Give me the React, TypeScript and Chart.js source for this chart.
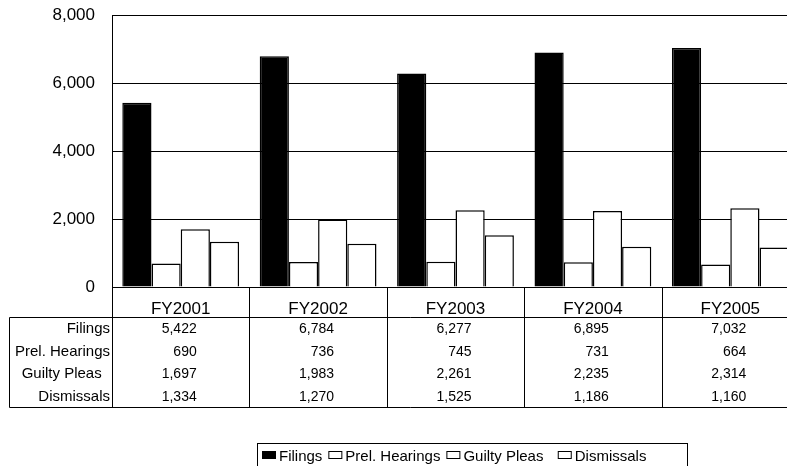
import React, { useEffect, useRef } from "react";
import { Chart, registerables } from "chart.js";

Chart.register(...registerables);

const categories = ["FY2001", "FY2002", "FY2003", "FY2004", "FY2005"];
const filings = [5422, 6784, 6277, 6895, 7032];
const prelHearings = [690, 736, 745, 731, 664];
const guiltyPleas = [1697, 1983, 2261, 2235, 2314];
const dismissals = [1334, 1270, 1525, 1186, 1160];
const seriesNames = ["Filings", "Prel. Hearings", "Guilty Pleas  ", "Dismissals"];
const seriesFills = ["#000000", "#ffffff", "#ffffff", "#ffffff"];
const yMin = 0;
const yMax = 8000;
const yStep = 2000;

const FONT = "'Liberation Sans', Arial, sans-serif";

const tablePlugin = {
  id: "dataTable",
  afterDraw(chart: any) {
    const ctx = chart.ctx as CanvasRenderingContext2D;
    const { left, right, bottom } = chart.chartArea;
    const xs = chart.scales.x;
    const n = categories.length;
    const cw = (right - left) / n;
    const rowTop = bottom + 30;
    const rowH = 22.5;
    const tableBottom = rowTop + rowH * 4;
    const W = chart.width;
    const px = (v: number) => Math.round(v) + 0.5;

    ctx.save();
    ctx.strokeStyle = "#000";
    ctx.lineWidth = 1;
    ctx.beginPath();
    for (let i = 0; i <= n; i++) {
      const x = px(left + i * cw);
      ctx.moveTo(x, bottom);
      ctx.lineTo(x, tableBottom);
    }
    ctx.moveTo(9.5, px(rowTop));
    ctx.lineTo(W, px(rowTop));
    ctx.moveTo(9.5, px(tableBottom));
    ctx.lineTo(W, px(tableBottom));
    ctx.moveTo(9.5, px(rowTop));
    ctx.lineTo(9.5, px(tableBottom));
    ctx.stroke();

    ctx.fillStyle = "#000";
    ctx.textBaseline = "alphabetic";
    ctx.font = `17px ${FONT}`;
    ctx.textAlign = "center";
    categories.forEach((c, i) => {
      ctx.fillText(c, xs.getPixelForValue(i), bottom + 27);
    });

    const rows = chart.data.datasets;
    rows.forEach((ds: any, r: number) => {
      const base = rowTop + rowH * r + rowH / 2 + 5;
      ctx.font = `15px ${FONT}`;
      ctx.textAlign = "right";
      ctx.fillText(ds.label, left - 2, base);
      ctx.font = `14px ${FONT}`;
      ds.data.forEach((v: number, i: number) => {
        ctx.fillText(v.toLocaleString("en-US"), xs.getPixelForValue(i) + 16, base);
      });
    });

    // legend
    ctx.strokeRect(257.5, 443.5, 430, 40);
    let x = 262;
    const ly = 451;
    ctx.font = `15px ${FONT}`;
    ctx.textAlign = "left";
    rows.forEach((ds: any) => {
      ctx.fillStyle = ds.backgroundColor;
      ctx.fillRect(x, ly, 14, 8);
      ctx.strokeStyle = "#000";
      ctx.strokeRect(x + 0.5, ly + 0.5, 13, 7);
      ctx.fillStyle = "#000";
      ctx.fillText(ds.label, x + 17, ly + 10);
      x += 17 + ctx.measureText(ds.label).width + 6;
    });
    ctx.restore();
  },
};

export default function App() {
  const ref = useRef<HTMLCanvasElement | null>(null);

  useEffect(() => {
    if (!ref.current) return;
    const seriesValues = [filings, prelHearings, guiltyPleas, dismissals];
    const chart = new Chart(ref.current, {
      type: "bar",
      data: {
        labels: categories,
        datasets: seriesNames.map((name, i) => ({
          label: name,
          data: seriesValues[i],
          backgroundColor: seriesFills[i],
          borderColor: "#000000",
          borderWidth: 1.5,
          categoryPercentage: 0.85,
          barPercentage: 1.0,
        })),
      },
      options: {
        animation: false,
        responsive: false,
        devicePixelRatio: 1,
        layout: { padding: { left: 0, top: 15, right: 13, bottom: 179 } },
        plugins: { legend: { display: false }, tooltip: { enabled: false } },
        scales: {
          x: { display: false },
          y: {
            min: yMin,
            max: yMax,
            ticks: {
              stepSize: yStep,
              color: "#000",
              font: { family: FONT, size: 17 },
              padding: 17,
            },
            grid: { color: "#000", lineWidth: 1, drawTicks: false },
            border: { display: true, color: "#000", width: 1 },
            afterFit(scale: any) {
              scale.width = 112;
              scale.paddingTop = 0;
              scale.paddingBottom = 0;
            },
          },
        },
      },
      plugins: [tablePlugin],
    });
    return () => chart.destroy();
  }, []);

  return (
    <div
      style={{
        position: "fixed",
        left: 0,
        top: 0,
        width: 787,
        height: 466,
        overflow: "hidden",
        background: "#fff",
      }}
    >
      <canvas ref={ref} width={812} height={466} style={{ display: "block" }} />
    </div>
  );
}
